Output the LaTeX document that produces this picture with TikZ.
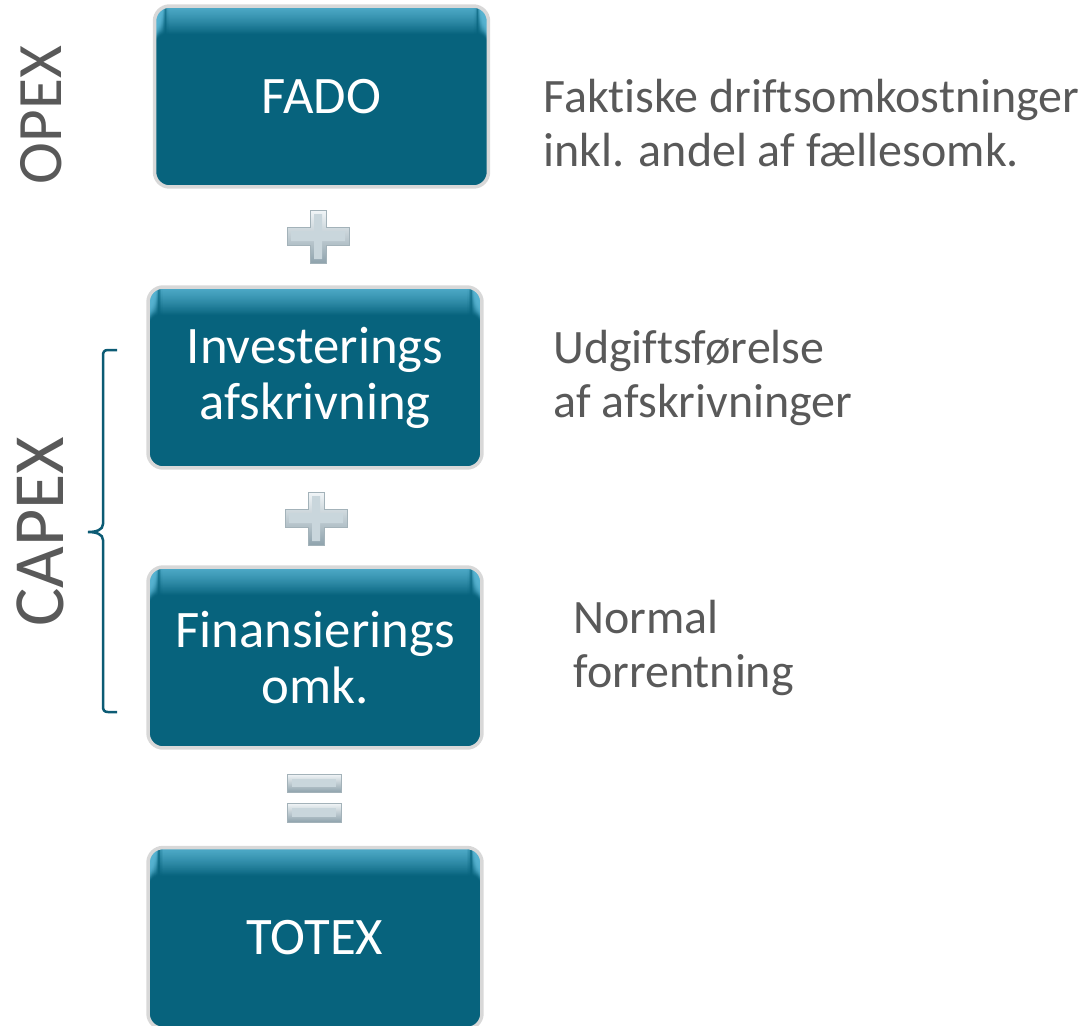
\documentclass[tikz,border=0pt]{standalone}
\usepackage{fontspec}
\setmainfont{Carlito}[Ligatures={NoCommon}]
\definecolor{teal1}{HTML}{07637D}
\definecolor{tealhi}{HTML}{58B4D2}
\definecolor{txtgray}{HTML}{595959}
\definecolor{bracec}{HTML}{0C5B74}
\definecolor{rim}{HTML}{D8D8D8}
\definecolor{symlight}{HTML}{F2F6F8}
\definecolor{symdark}{HTML}{8FA3AD}
\definecolor{symmid}{HTML}{C9D6DC}
\definecolor{symedge}{HTML}{A3B2B9}
\begin{document}
\begin{tikzpicture}[x=0.02cm,y=-0.02cm,
 box/.style={rounded corners=0.3cm, fill=teal1, draw=rim, line width=0.07cm,
   minimum width=6.68cm, minimum height=3.62cm, inner sep=0pt, text=white,
   align=center, font=\fontsize{30}{32}\selectfont,
   path picture={\foreach \i in {0,...,27}{
     \fill[tealhi, opacity={0.85*(1-\i/28)}]
       ([yshift={-\i*0.02cm}]path picture bounding box.north west) rectangle
       ([yshift={-(\i+1)*0.02cm-0.005cm}]path picture bounding box.north east);}}},
 note/.style={anchor=base west, inner sep=0pt, align=left, text=txtgray,
   font=\fontsize{27.3}{30.7}\selectfont},
 side/.style={text=txtgray, rotate=90, inner sep=0pt},
 symout/.style={top color=symlight, bottom color=symdark, draw=symedge, line width=0.3pt},
 symin/.style={fill=symmid},
 bracestyle/.style={draw=bracec, line width=0.05cm}
]
\useasboundingbox (0,0) rectangle (1084,1025);

% boxes
\node[box] (fado) at (321.5,96.5) {FADO};
\node[box] (inv) at (315,377.5) {Investerings\\afskrivning};
\node[box] (fin) at (315,657.5) {Finansierings\\omk.};
\node[box] (totex) at (315,938) {TOTEX};

% side labels
\node[side, font=\fontsize{36}{38}\selectfont] (opex) at (41,115) {OPEX};
\node[side, font=\fontsize{41}{43}\selectfont] (capex) at (40,532) {CAPEX};

% notes (base anchor = last line baseline)
\node[note] (n1) at (543,166) {Faktiske driftsomkostninger\\inkl. andel af fællesomk.};
\node[note] (n2) at (553,417) {Udgiftsførelse\\af afskrivninger};
\node[note] (n3) at (573,687) {Normal\\forrentning};

% brace
\draw[bracestyle] (117,350) -- (108,350) .. controls (104,350) and (103,352) .. (103,356)
  -- (103,524) .. controls (103,530) and (96,532) .. (88,532)
  .. controls (96,532) and (103,534) .. (103,540)
  -- (103,706) .. controls (103,710) and (104,712) .. (108,712) -- (117,712);

% plus signs
\foreach \cx/\cy in {318/236, 316/518}{
  \begin{scope}[shift={(\cx,\cy)}]
    \path[symout] (-31,-9) -- (-8,-9) -- (-8,-26) -- (8,-26) -- (8,-9) -- (31,-9)
      -- (31,9) -- (8,9) -- (8,27) -- (-8,27) -- (-8,9) -- (-31,9) -- cycle;
    \path[symin] (-27,-5) -- (-4,-5) -- (-4,-22) -- (4,-22) -- (4,-5) -- (27,-5)
      -- (27,5) -- (4,5) -- (4,23) -- (-4,23) -- (-4,5) -- (-27,5) -- cycle;
  \end{scope}
}
% equals sign
\foreach \ya/\yb in {774/792, 803/822}{
  \path[symout] (287,\ya) rectangle (341,\yb);
  \path[symin] (292,\ya+5) rectangle (336,\yb-5);
}
\end{tikzpicture}
\end{document}
